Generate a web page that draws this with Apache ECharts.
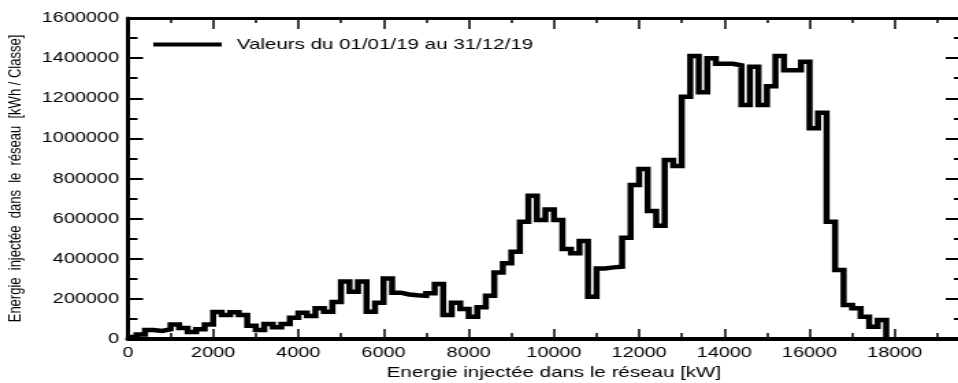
<!DOCTYPE html>
<html>
<head>
<meta charset="utf-8">
<script src="https://cdn.jsdelivr.net/npm/echarts@6/dist/echarts.min.js"></script>
<style>
html, body { margin: 0; padding: 0; background: #fff; overflow: hidden; }
#chart { width: 700px; height: 383px; transform: scaleX(1.368571); transform-origin: 0 0; }
</style>
</head>
<body>
<div id="chart"></div>
<script>
// Bin starts (kW), 200 kW wide classes
const binStarts = [
  0, 200, 400, 600, 800, 1000, 1200, 1400, 1600, 1800,
  2000, 2200, 2400, 2600, 2800, 3000, 3200, 3400, 3600, 3800,
  4000, 4200, 4400, 4600, 4800, 5000, 5200, 5400, 5600, 5800,
  6000, 6200, 6400, 6600, 6800, 7000, 7200, 7400, 7600, 7800,
  8000, 8200, 8400, 8600, 8800, 9000, 9200, 9400, 9600, 9800,
  10000, 10200, 10400, 10600, 10800, 11000, 11200, 11400, 11600, 11800,
  12000, 12200, 12400, 12600, 12800, 13000, 13200, 13400, 13600, 13800,
  14000, 14200, 14400, 14600, 14800, 15000, 15200, 15400, 15600, 15800,
  16000, 16200, 16400, 16600, 16800, 17000, 17200, 17400, 17600
];
// Energy per class (kWh / Classe)
const binValues = [
  10000, 22000, 45000, 40000, 48000, 72000, 55000, 35000, 48000, 72000,
  135000, 120000, 133000, 120000, 66000, 45000, 75000, 58000, 75000, 106000,
  131000, 115000, 153000, 136000, 184000, 286000, 236000, 286000, 136000, 181000,
  302000, 231000, 222000, 218000, 215000, 228000, 274000, 120000, 181000, 150000,
  111000, 158000, 216000, 332000, 377000, 435000, 585000, 714000, 593000, 646000,
  593000, 448000, 427000, 488000, 211000, 352000, 357000, 360000, 505000, 767000,
  847000, 638000, 565000, 892000, 862000, 1207000, 1410000, 1230000, 1400000, 1372000,
  1372000, 1364000, 1166000, 1357000, 1166000, 1260000, 1410000, 1340000, 1340000, 1382000,
  1050000, 1128000, 585000, 344000, 169000, 153000, 111000, 61000, 95000
];
const lastEdge = 17800;

const xTickLabels = ['0', '2000', '4000', '6000', '8000', '10000', '12000', '14000', '16000', '18000'];
const yTickLabels = ['0', '200000', '400000', '600000', '800000', '1000000', '1200000', '1400000', '1600000'];

const seriesName = 'Valeurs du 01/01/19 au 31/12/19';
const xTitle = 'Energie injectée dans le réseau [kW]';
const yTitle = 'Energie  injectée  dans  le  réseau  [kWh / Classe]';

const points = binStarts.map((x, i) => [x, binValues[i]]);
points.push([lastEdge, 0]);

const FONT = 'Liberation Sans, Arial, sans-serif';

const chart = echarts.init(document.getElementById('chart'), null, { renderer: 'canvas' });
chart.setOption({
  animation: false,
  backgroundColor: '#fff',
  grid: { left: 93.5, top: 18, width: 622.5, height: 321, containLabel: false, outerBoundsMode: 'none' },
  legend: {
    show: true,
    left: 112,
    top: 37,
    padding: 0,
    icon: 'rect',
    itemWidth: 50,
    itemHeight: 4,
    data: [seriesName],
    textStyle: { fontSize: 15, color: '#000', fontFamily: FONT, padding: [0, 0, 0, 6] }
  },
  xAxis: [
    {
      type: 'value', position: 'bottom', min: 0, max: 20000, interval: 2000,
      axisLine: { show: true, onZero: false, lineStyle: { color: '#000', width: 4 } },
      axisTick: { show: true, inside: true, length: 10, lineStyle: { color: '#000', width: 1.5 } },
      minorTick: { show: true, splitNumber: 2, length: 6, lineStyle: { color: '#000', width: 1.5 } },
      splitLine: { show: false },
      axisLabel: {
        show: true, margin: 6, fontSize: 14.5, color: '#000', fontFamily: FONT,
        showMaxLabel: false,
        formatter: v => { const s = xTickLabels[Math.round(v / 2000)]; return (s !== undefined && v <= 18000) ? s : ''; }
      },
      name: xTitle, nameLocation: 'middle', nameGap: 25,
      nameTextStyle: { fontSize: 15, color: '#000', fontFamily: FONT }
    },
    {
      type: 'value', position: 'top', min: 0, max: 20000, interval: 2000,
      axisLine: { show: true, onZero: false, lineStyle: { color: '#000', width: 3 } },
      axisTick: { show: true, inside: true, length: 11, lineStyle: { color: '#000', width: 1.5 } },
      minorTick: { show: true, splitNumber: 2, length: 5, lineStyle: { color: '#000', width: 1.5 } },
      splitLine: { show: false },
      axisLabel: { show: false }
    }
  ],
  yAxis: [
    {
      type: 'value', position: 'left', min: 0, max: 1600000, interval: 200000,
      axisLine: { show: true, onZero: false, lineStyle: { color: '#000', width: 3 } },
      axisTick: { show: true, inside: true, length: 11, lineStyle: { color: '#000', width: 2 } },
      minorTick: { show: true, splitNumber: 2, length: 7, lineStyle: { color: '#000', width: 2 } },
      splitLine: { show: false },
      axisLabel: {
        show: true, margin: 6.5, fontSize: 14.5, color: '#000', fontFamily: FONT,
        formatter: v => yTickLabels[Math.round(v / 200000)] || ''
      },
      name: yTitle, nameLocation: 'middle', nameGap: 76, nameRotate: 90,
      nameTextStyle: { fontSize: 13, color: '#000', fontFamily: FONT }
    },
    {
      type: 'value', position: 'right', offset: -14, min: 0, max: 1600000, interval: 200000,
      axisLine: { show: true, onZero: false, lineStyle: { color: '#000', width: 3 } },
      axisTick: { show: true, inside: true, length: 11, lineStyle: { color: '#000', width: 2 } },
      minorTick: { show: true, splitNumber: 2, length: 5, lineStyle: { color: '#000', width: 2 } },
      splitLine: { show: false },
      axisLabel: { show: false }
    }
  ],
  series: [
    {
      name: seriesName,
      type: 'line',
      step: 'end',
      xAxisIndex: 0,
      yAxisIndex: 0,
      data: points,
      symbol: 'none',
      showSymbol: false,
      color: '#000',
      lineStyle: { color: '#000', width: 4.5, join: 'miter' },
      itemStyle: { color: '#000' },
      clip: false
    }
  ]
});
</script>
</body>
</html>
